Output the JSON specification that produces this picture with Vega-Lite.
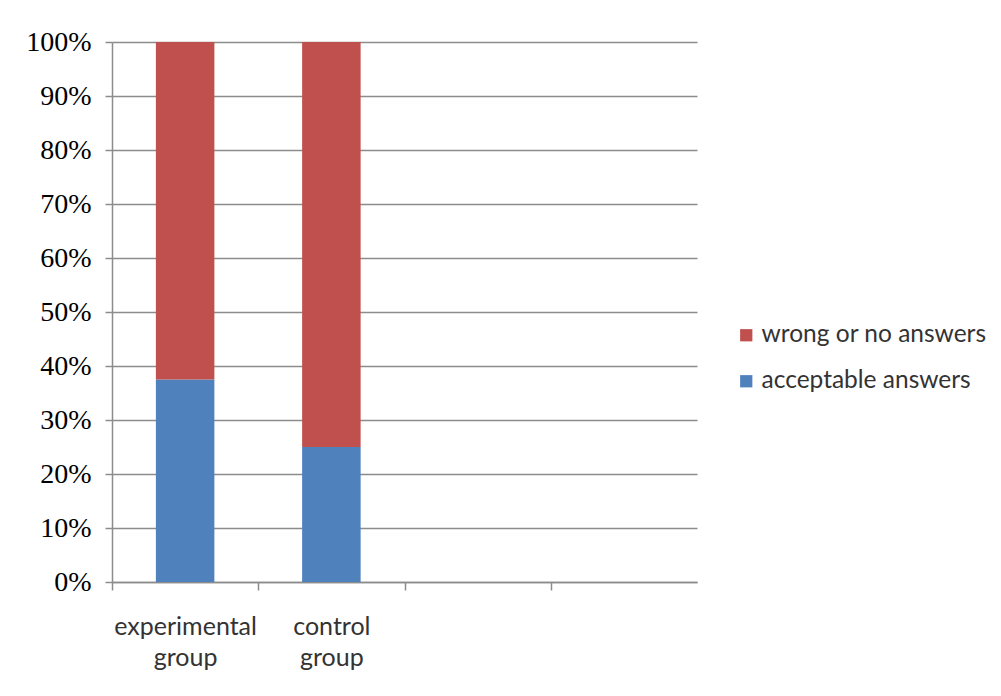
{
  "$schema": "https://vega.github.io/schema/vega-lite/v6.json",
  "width": 585,
  "height": 540,
  "autosize": {"type": "none"},
  "padding": {"left": 112, "top": 42, "right": 304, "bottom": 114},
  "background": "white",
  "data": {
    "values": [
      {"group": "experimental group", "answer": "acceptable answers", "share": 37.5},
      {"group": "experimental group", "answer": "wrong or no answers", "share": 62.5},
      {"group": "control group", "answer": "acceptable answers", "share": 25},
      {"group": "control group", "answer": "wrong or no answers", "share": 75}
    ]
  },
  "mark": {"type": "bar", "width": {"band": 0.4}},
  "encoding": {
    "x": {
      "field": "group",
      "type": "nominal",
      "scale": {"domain": ["experimental group", "control group", "c3", "c4"], "paddingInner": 0, "paddingOuter": 0},
      "axis": {
        "title": null,
        "labelAngle": 0,
        "tickOffset": -73.125,
        "labelOffset": 73.125,
        "domainColor": "#8c8c8c",
        "domainWidth": 1.5,
        "tickColor": "#8c8c8c",
        "tickWidth": 1.5,
        "tickSize": 8,
        "labelPadding": 24,
        "labelFont": "Lato",
        "labelFontSize": 25,
        "labelColor": "#333333",
        "labelLineHeight": 31,
        "labelExpr": "indexof(datum.value, 'group') >= 0 ? split(datum.value, ' ') : ''"
      }
    },
    "y": {
      "field": "share",
      "type": "quantitative",
      "stack": "normalize",
      "axis": {
        "title": null,
        "tickCount": 10,
        "format": ".0%",
        "gridColor": "#8c8c8c",
        "gridWidth": 1.5,
        "domainColor": "#8c8c8c",
        "domainWidth": 1.5,
        "tickColor": "#8c8c8c",
        "tickWidth": 1.5,
        "tickSize": 7,
        "labelPadding": 14,
        "labelFont": "Liberation Serif",
        "labelFontSize": 28,
        "labelColor": "#000000"
      }
    },
    "color": {
      "field": "answer",
      "type": "nominal",
      "scale": {"domain": ["wrong or no answers", "acceptable answers"], "range": ["#C0504D", "#4F81BD"]},
      "legend": {
        "title": null,
        "orient": "none",
        "legendX": 622,
        "legendY": 281,
        "padding": 0,
        "symbolType": "square",
        "symbolSize": 150,
        "symbolStrokeWidth": 0,
        "labelFont": "Lato",
        "labelFontSize": 24.5,
        "labelColor": "#333333",
        "labelLimit": 350,
        "labelOffset": 3,
        "rowPadding": 21
      }
    },
    "order": {"field": "answer", "sort": "ascending"}
  },
  "config": {"view": {"stroke": null}}
}
